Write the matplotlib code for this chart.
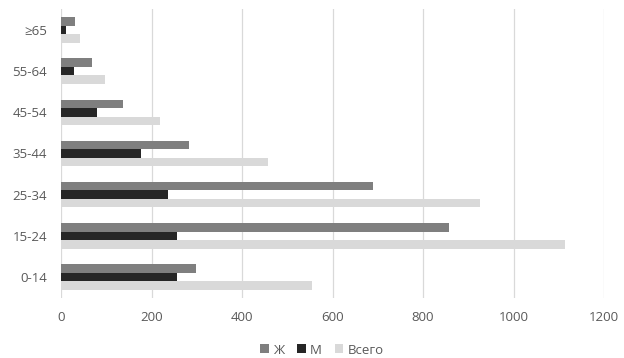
import matplotlib
matplotlib.use("Agg")
import matplotlib.pyplot as plt
import numpy as np

categories = ["0-14", "15-24", "25-34", "35-44", "45-54", "55-64", "≥65"]
zh = [298, 857, 690, 283, 137, 68, 31]
m = [256, 256, 236, 177, 80, 29, 11]
total = [555, 1114, 926, 457, 219, 97, 42]
series_names = ["Ж", "М", "Всего"]
xticks = [0, 200, 400, 600, 800, 1000, 1200]

plt.rcParams['font.family'] = ['Open Sans', 'DejaVu Sans']
fig = plt.figure(figsize=(6.24, 3.58), dpi=100)
ax = fig.add_axes([61/624, 1-297.6/358, (604-61)/624, (297.6-9.4)/358])

y = np.arange(len(categories))
bh = 0.206
colors = ["#7f7f7f", "#262626", "#d9d9d9"]
ax.barh(y + bh, zh, height=bh, color=colors[0], label=series_names[0], zorder=3)
ax.barh(y, m, height=bh, color=colors[1], label=series_names[1], zorder=3)
ax.barh(y - bh, total, height=bh, color=colors[2], label=series_names[2], zorder=3)

ax.set_xlim(0, 1200)
ax.set_ylim(-0.5, 6.5)
ax.set_xticks(xticks)
ax.set_xticklabels([str(t) for t in xticks])
ax.set_yticks(y)
ax.set_yticklabels(categories)
ax.grid(axis='x', color='#d9d9d9', linewidth=0.9, zorder=0)
ax.grid(axis='y', visible=False)
for s in ax.spines.values():
    s.set_visible(False)
ax.tick_params(axis='both', length=0, colors='#595959', labelsize=9.5)
ax.tick_params(axis='x', pad=10)
ax.tick_params(axis='y', pad=10)

leg = fig.legend(loc='center', bbox_to_anchor=(322/624, 1-350/358), ncol=3, frameon=False,
                 fontsize=9.5, handlelength=0.65, handleheight=0.65, handletextpad=0.3,
                 columnspacing=1.0, labelcolor='#595959')
fig.savefig("out.png", dpi=100)
